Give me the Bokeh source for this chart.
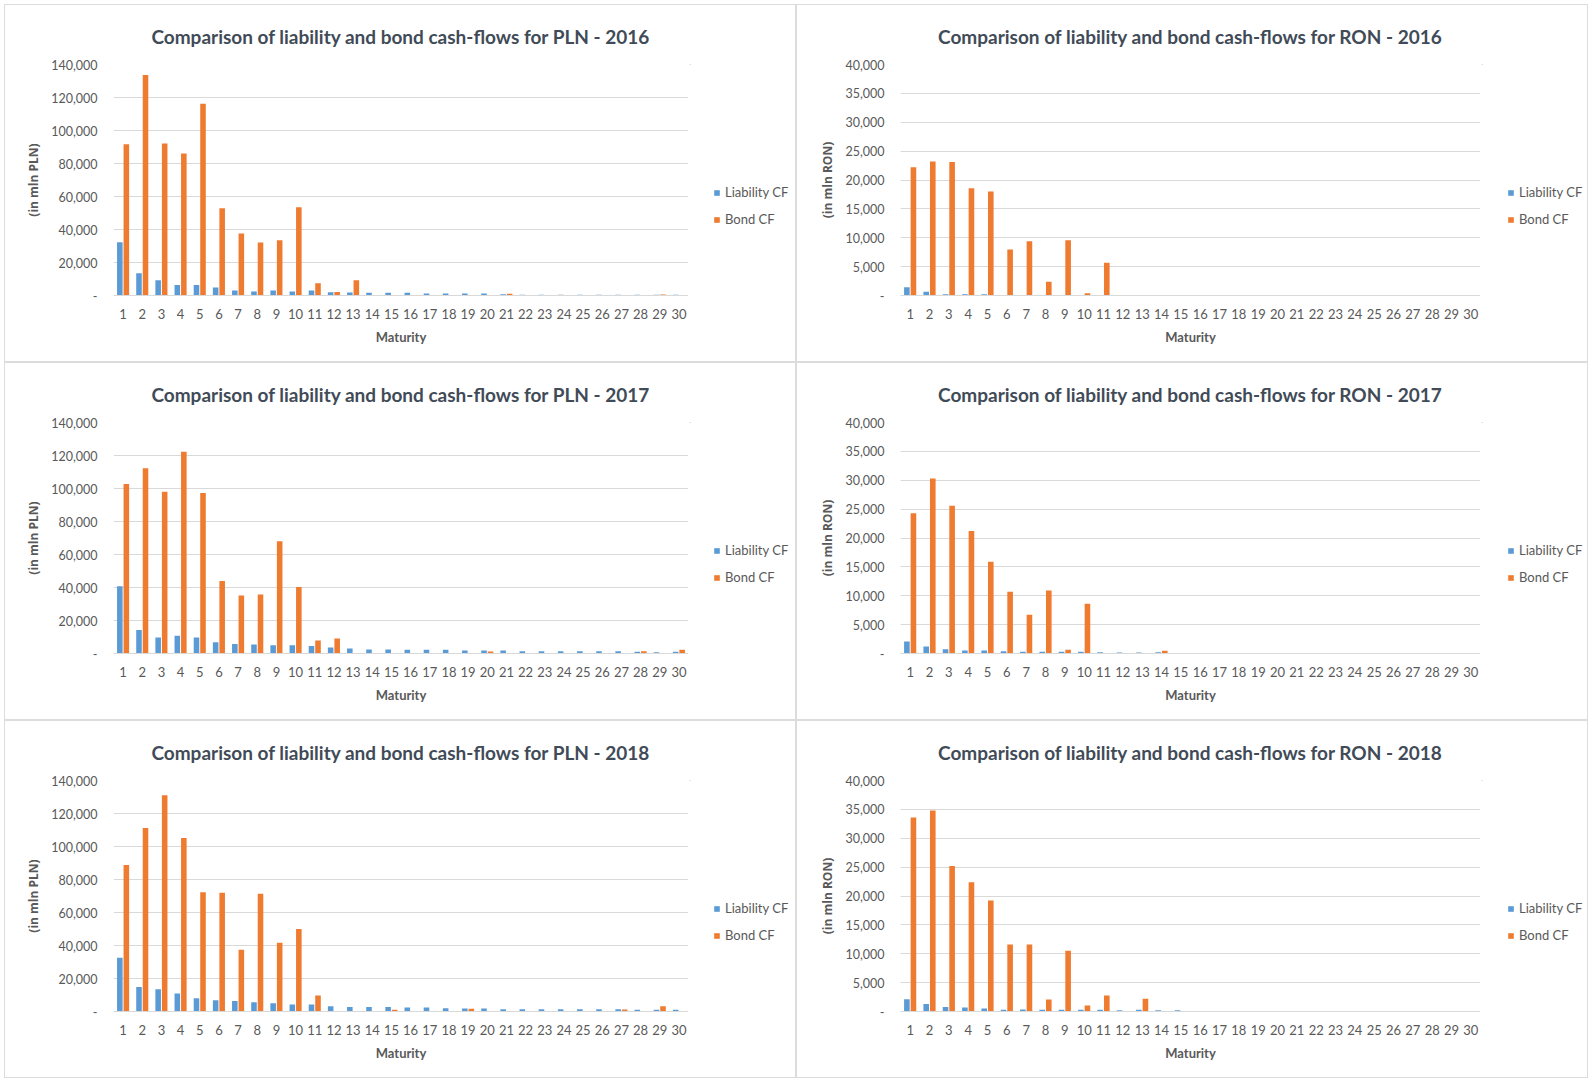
from bokeh.plotting import figure
from bokeh.models import (ColumnDataSource, FactorRange, Legend, LegendItem,
                          FixedTicker, NumeralTickFormatter, GridBox, Range1d)
from bokeh.transform import dodge
from bokeh.layouts import row
from bokeh.embed import file_html
from bokeh.resources import INLINE

# ---------------- data ----------------
maturity = [str(i) for i in range(1, 31)]

pln_2016_liab = [32200, 13500, 9200, 6300, 6300, 4900, 3100, 2500, 3100, 2500,
                 3100, 2000, 1800, 1600, 1600, 1600, 1200, 1200, 1200, 1200,
                 700, 500, 500, 500, 500, 500, 500, 500, 500, 500]
pln_2016_bond = [91700, 133700, 92100, 86100, 116200, 52900, 37600, 32100, 33500, 53500,
                 7400, 2100, 9300, 0, 0, 0, 0, 0, 0, 0,
                 1100, 0, 0, 0, 0, 0, 0, 0, 600, 0]

ron_2016_liab = [1450, 630, 230, 230, 230, 0, 0, 0, 0, 0,
                 0, 0, 0, 0, 0, 0, 0, 0, 0, 0,
                 0, 0, 0, 0, 0, 0, 0, 0, 0, 0]
ron_2016_bond = [22200, 23200, 23100, 18550, 18000, 7970, 9410, 2370, 9580, 400,
                 5660, 0, 0, 0, 0, 0, 0, 0, 0, 0,
                 0, 0, 0, 0, 0, 0, 0, 0, 0, 0]

pln_2017_liab = [40700, 14300, 9700, 10700, 9700, 6800, 5800, 5400, 5000, 5000,
                 4600, 3600, 3000, 2400, 2400, 2200, 2200, 2200, 1800, 1800,
                 1800, 1400, 1400, 1400, 1400, 1400, 1400, 1000, 800, 1000]
pln_2017_bond = [102700, 112200, 98100, 122300, 97300, 43900, 35100, 35700, 68100, 40300,
                 7900, 9100, 0, 0, 0, 0, 0, 0, 0, 1200,
                 0, 0, 0, 0, 0, 0, 0, 1400, 0, 2200]

ron_2017_liab = [2070, 1200, 750, 520, 520, 400, 290, 290, 290, 290,
                 230, 170, 170, 230, 0, 0, 0, 0, 0, 0,
                 0, 0, 0, 0, 0, 0, 0, 0, 0, 0]
ron_2017_bond = [24300, 30300, 25600, 21200, 15900, 10700, 6700, 10900, 630, 8600,
                 0, 0, 0, 460, 0, 0, 0, 0, 0, 0,
                 0, 0, 0, 0, 0, 0, 0, 0, 0, 0]

pln_2018_liab = [32600, 14900, 13500, 10900, 8100, 6800, 6400, 5600, 5000, 4200,
                 4200, 3200, 2800, 2800, 2800, 2400, 2400, 2000, 1800, 1800,
                 1400, 1400, 1400, 1400, 1400, 1400, 1400, 1000, 1000, 1000]
pln_2018_bond = [88800, 111200, 131100, 105200, 72300, 71900, 37500, 71300, 41700, 50000,
                 9700, 0, 0, 0, 1000, 0, 0, 0, 1600, 0,
                 0, 0, 0, 0, 0, 0, 1200, 0, 3200, 0]

ron_2018_liab = [2130, 1320, 800, 690, 520, 290, 350, 290, 290, 290,
                 290, 230, 290, 230, 230, 0, 0, 0, 0, 0,
                 0, 0, 0, 0, 0, 0, 0, 0, 0, 0]
ron_2018_bond = [33600, 34800, 25200, 22400, 19200, 11600, 11600, 2070, 10500, 1040,
                 2760, 0, 2190, 0, 0, 0, 0, 0, 0, 0,
                 0, 0, 0, 0, 0, 0, 0, 0, 0, 0]

pln_ticks = [0, 20000, 40000, 60000, 80000, 100000, 120000, 140000]
ron_ticks = [0, 5000, 10000, 15000, 20000, 25000, 30000, 35000, 40000]

series_labels = ["Liability CF", "Bond CF"]

# ---------------- styling ----------------
H = 356
MAIN_W = 683
LEG_W = 107
BLUE = "#5B9BD5"
ORANGE = "#EE7B30"
TXT = "#595959"
TITLE_C = "#414B58"
GRID_C = "#D9D9D9"
FONT = "Lato"


def make(title, cur, liab, bond, ticks, is_left):
    src = ColumnDataSource(dict(m=maturity, liab=liab, bond=bond))
    bl = 108 if is_left else 103
    p = figure(x_range=FactorRange(*maturity), y_range=(0, ticks[-1]),
               width=MAIN_W, height=H,
               output_backend="svg", toolbar_location=None,
               min_border_left=bl, min_border_right=0,
               min_border_top=59, min_border_bottom=66)
    p.vbar(x=dodge("m", -0.17, range=p.x_range), top="liab", width=0.29,
           source=src, fill_color=BLUE, line_color=None)
    p.vbar(x=dodge("m", 0.17, range=p.x_range), top="bond", width=0.29,
           source=src, fill_color=ORANGE, line_color=None)

    p.title.text = title
    p.title.align = "center"
    p.title.text_font = FONT
    p.title.text_font_size = "19px"
    p.title.text_font_style = "bold"
    p.title.text_color = TITLE_C
    p.title.standoff = 33

    p.outline_line_color = None
    p.xgrid.grid_line_color = None
    p.ygrid.grid_line_color = GRID_C
    p.ygrid.grid_line_width = 1

    p.yaxis.ticker = FixedTicker(ticks=ticks)
    p.yaxis.formatter = NumeralTickFormatter(format="0,0")
    p.yaxis.major_label_overrides = {0: "-"}
    p.yaxis.axis_line_color = None
    p.yaxis.major_tick_line_color = None
    p.yaxis.minor_tick_line_color = None
    p.yaxis.major_tick_out = 0
    p.yaxis.major_label_standoff = 16
    p.yaxis.major_label_text_font = FONT
    p.yaxis.major_label_text_font_size = "12.5px"
    p.yaxis.major_label_text_color = TXT
    p.yaxis.axis_label = "(in mln %s)" % cur
    p.yaxis.axis_label_text_font = "Open Sans"
    p.yaxis.axis_label_text_font_size = "12px"
    p.yaxis.axis_label_text_font_style = "bold"
    p.yaxis.axis_label_text_color = TXT
    p.yaxis.axis_label_standoff = 6

    p.xaxis.axis_line_color = GRID_C
    p.xaxis.major_tick_line_color = None
    p.xaxis.minor_tick_line_color = None
    p.xaxis.major_tick_out = 0
    p.xaxis.major_label_standoff = 13
    p.xaxis.major_label_text_font = FONT
    p.xaxis.major_label_text_font_size = "13px"
    p.xaxis.major_label_text_color = TXT
    p.xaxis.axis_label = "Maturity"
    p.xaxis.axis_label_text_font = FONT
    p.xaxis.axis_label_text_font_size = "13px"
    p.xaxis.axis_label_text_font_style = "bold"
    p.xaxis.axis_label_text_color = TXT
    p.xaxis.axis_label_standoff = 7

    # legend panel to the right of the chart (swatch renderers have zero
    # height and lie outside the view; only the legend itself is visible)
    lg = figure(width=LEG_W, height=H, x_axis_type=None, y_axis_type=None,
                x_range=FactorRange(*maturity), y_range=Range1d(-2, -1),
                output_backend="svg", toolbar_location=None,
                min_border=0, outline_line_color=None)
    lg.xgrid.visible = False
    lg.ygrid.visible = False
    sw = ColumnDataSource(dict(m=maturity[:1], liab=liab[:1], bond=bond[:1]))
    k1 = lg.vbar(x="m", top="liab", bottom="liab", width=0.3, source=sw,
                 fill_color=BLUE, line_color=None)
    k2 = lg.vbar(x="m", top="bond", bottom="bond", width=0.3, source=sw,
                 fill_color=ORANGE, line_color=None)
    legend = Legend(items=[LegendItem(label=series_labels[0], renderers=[k1]),
                           LegendItem(label=series_labels[1], renderers=[k2])],
                    location=(25 if is_left else 27, 68),
                    orientation="vertical",
                    border_line_color=None, background_fill_alpha=0,
                    padding=0, margin=0, spacing=11,
                    glyph_width=7, glyph_height=7, label_standoff=5,
                    label_height=16,
                    label_text_font=FONT, label_text_font_size="13px",
                    label_text_color=TXT)
    lg.add_layout(legend, "center")
    return row(p, lg, spacing=0, styles={"background-color": "white"})


panels = [
    make("Comparison of liability and bond cash-flows for PLN - 2016", "PLN",
         pln_2016_liab, pln_2016_bond, pln_ticks, True),
    make("Comparison of liability and bond cash-flows for RON - 2016", "RON",
         ron_2016_liab, ron_2016_bond, ron_ticks, False),
    make("Comparison of liability and bond cash-flows for PLN - 2017", "PLN",
         pln_2017_liab, pln_2017_bond, pln_ticks, True),
    make("Comparison of liability and bond cash-flows for RON - 2017", "RON",
         ron_2017_liab, ron_2017_bond, ron_ticks, False),
    make("Comparison of liability and bond cash-flows for PLN - 2018", "PLN",
         pln_2018_liab, pln_2018_bond, pln_ticks, True),
    make("Comparison of liability and bond cash-flows for RON - 2018", "RON",
         ron_2018_liab, ron_2018_bond, ron_ticks, False),
]

grid = GridBox(children=[(panels[i], i // 2, i % 2) for i in range(6)],
               spacing=2)
grid.styles = {"background-color": "#DCDCDC", "padding": "1px",
               "margin": "4px 0 0 4px"}

open("out.html", "w").write(file_html(grid, INLINE))
